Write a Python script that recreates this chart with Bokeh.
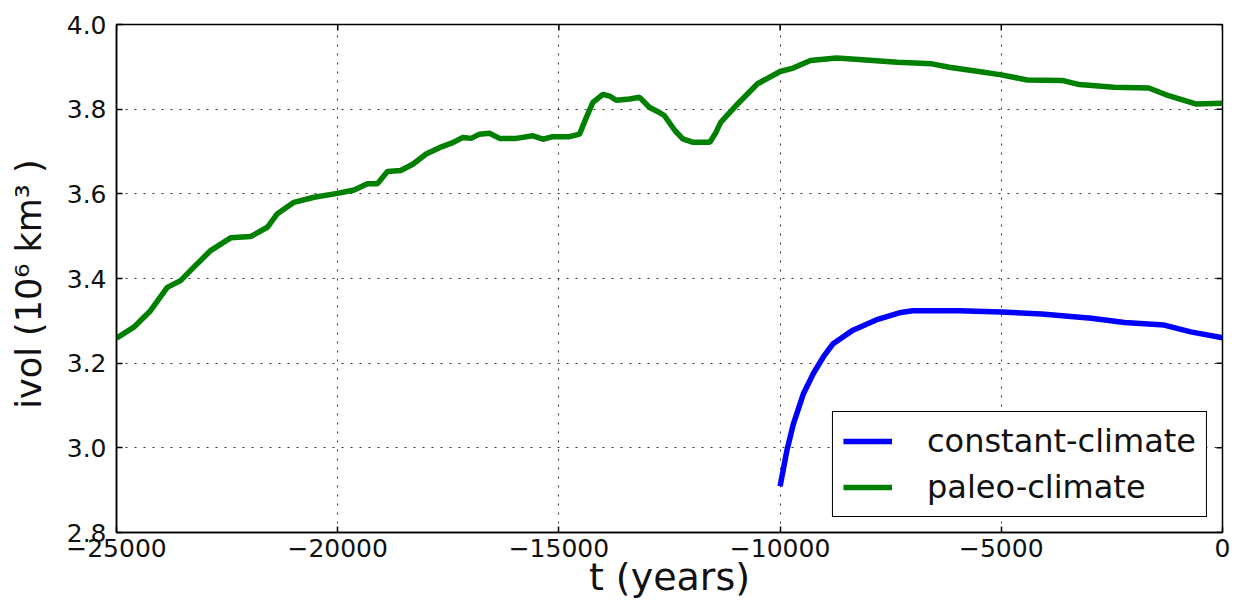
import math
from bokeh.plotting import figure
from bokeh.models import Range1d, FixedTicker, Legend, LegendItem
from bokeh.embed import file_html
from bokeh.resources import INLINE

# ---- data ----
t_const = [-10000, -9850, -9701, -9476, -9251, -9027, -8802, -8353, -7829, -7305,
           -7006, -5958, -5000, -4087, -2964, -2216, -1317, -719, 0]
v_const = [2.909, 2.992, 3.056, 3.127, 3.175, 3.214, 3.246, 3.278, 3.302, 3.319,
           3.324, 3.324, 3.321, 3.316, 3.306, 3.296, 3.290, 3.274, 3.260]

t_paleo = [-25000, -24609, -24231, -23853, -23552, -23174, -22873, -22421, -21968, -21590,
           -21364, -20988, -20535, -20006, -19630, -19328, -19102, -18876, -18575, -18302,
           -18001, -17699, -17398, -17172, -16983, -16795, -16568, -16342, -15965, -15588,
           -15362, -15136, -14759, -14533, -14382, -14231, -14005, -13854, -13703, -13402,
           -13176, -12949, -12760, -12618, -12373, -12200, -11980, -11588, -11450, -11343,
           -11000, -10510, -10000, -9706, -9314, -8725, -8137, -7353, -6569, -6177,
           -5392, -5000, -4412, -3627, -3235, -2451, -1667, -1275, -588, 0]
v_paleo = [3.259, 3.285, 3.324, 3.379, 3.395, 3.435, 3.466, 3.496, 3.499, 3.521,
           3.553, 3.580, 3.592, 3.601, 3.609, 3.624, 3.624, 3.653, 3.655, 3.670,
           3.694, 3.709, 3.721, 3.733, 3.731, 3.741, 3.743, 3.731, 3.731, 3.737,
           3.729, 3.735, 3.735, 3.741, 3.780, 3.816, 3.835, 3.831, 3.821, 3.824,
           3.828, 3.804, 3.794, 3.785, 3.749, 3.730, 3.722, 3.722, 3.745, 3.769,
           3.808, 3.860, 3.889, 3.897, 3.915, 3.921, 3.917, 3.911, 3.907, 3.899,
           3.887, 3.881, 3.869, 3.868, 3.858, 3.852, 3.850, 3.834, 3.812, 3.814]

x_ticks = [-25000, -20000, -15000, -10000, -5000, 0]
x_tick_labels = ["\u221225000", "\u221220000", "\u221215000", "\u221210000", "\u22125000", "0"]
y_ticks = [2.8, 3.0, 3.2, 3.4, 3.6, 3.8, 4.0]
y_tick_labels = ["2.8", "3.0", "3.2", "3.4", "3.6", "3.8", "4.0"]

series_names = ["constant-climate", "paleo-climate"]
x_label = "t (years)"
y_label = "ivol (10\u2076  km\u00b3 )"

FONT = "DejaVu Sans"

p = figure(width=1239, height=611, output_backend="svg", toolbar_location=None,
           x_range=Range1d(x_ticks[0], x_ticks[-1]), y_range=Range1d(y_ticks[0], y_ticks[-1]),
           min_border_left=116, min_border_right=17, min_border_top=24, min_border_bottom=79)
p.background_fill_color = "white"
p.border_fill_color = "white"
p.outline_line_color = "black"
p.outline_line_width = 1.5

r_const = p.line(t_const, v_const, line_color="#0000ff", line_width=5.5)
r_paleo = p.line(t_paleo, v_paleo, line_color="#008000", line_width=5.5)

# inward ticks on the top and right edges (matplotlib classic look)
p.scatter(x_ticks, [y_ticks[-1]] * len(x_ticks), marker="dash", size=12,
          angle=math.pi / 2, line_color="black", line_width=1.5)
p.scatter([x_ticks[-1]] * len(y_ticks), y_ticks, marker="dash", size=12,
          line_color="black", line_width=1.5)

def style_axis(ax, ticks, labels):
    ax.ticker = FixedTicker(ticks=ticks)
    ax.axis_line_color = "black"
    ax.axis_line_width = 1.5
    ax.major_tick_in = 6
    ax.major_tick_out = 0
    ax.major_tick_line_color = "black"
    ax.major_tick_line_width = 1.5
    ax.minor_tick_in = 0
    ax.minor_tick_out = 0
    ax.minor_tick_line_color = None
    ax.major_label_overrides = {t: l for t, l in zip(ticks, labels)}
    ax.major_label_text_font = FONT
    ax.major_label_text_font_size = "25px"
    ax.major_label_text_color = "#111111"

xa = p.xaxis[0]
style_axis(xa, x_ticks, x_tick_labels)
xa.major_label_standoff = 6
xa.axis_label = x_label
xa.axis_label_text_font = FONT
xa.axis_label_text_font_size = "38px"
xa.axis_label_text_font_style = "normal"
xa.axis_label_text_color = "#111111"
xa.axis_label_standoff = -5

ya = p.yaxis[0]
style_axis(ya, y_ticks, y_tick_labels)
ya.major_label_standoff = 10
ya.axis_label = y_label
ya.axis_label_text_font = FONT
ya.axis_label_text_font_size = "35px"
ya.axis_label_text_font_style = "normal"
ya.axis_label_text_color = "#111111"
ya.axis_label_standoff = 15

for g in (p.xgrid[0], p.ygrid[0]):
    g.grid_line_color = "black"
    g.grid_line_dash = "2 7"
    g.grid_line_width = 1
    g.grid_line_alpha = 0.8
p.xgrid[0].ticker = FixedTicker(ticks=x_ticks)
p.ygrid[0].ticker = FixedTicker(ticks=y_ticks)

legend = Legend(items=[LegendItem(label=series_names[0], renderers=[r_const]),
                       LegendItem(label=series_names[1], renderers=[r_paleo])],
                location="bottom_right")
legend.margin = 15
legend.padding = 10
legend.spacing = 8
legend.label_text_font = FONT
legend.label_text_font_size = "32px"
legend.label_text_color = "#111111"
legend.glyph_width = 49
legend.glyph_height = 34
legend.label_height = 34
legend.label_standoff = 35
legend.border_line_color = "black"
legend.border_line_alpha = 1.0
legend.border_line_width = 1.5
legend.background_fill_color = "white"
legend.background_fill_alpha = 1.0
p.add_layout(legend)

open("out.html", "w").write(file_html(p, INLINE))
